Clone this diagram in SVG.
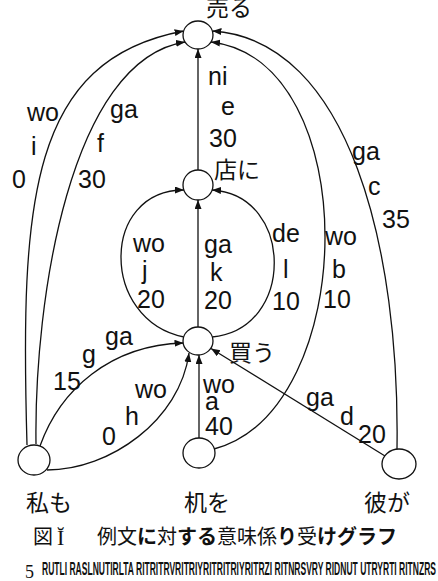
<svg xmlns="http://www.w3.org/2000/svg" width="438" height="581" viewBox="0 0 438 581">
<style>
.n{fill:#fff;stroke:#111;stroke-width:1.3}
.e{fill:none;stroke:#111;stroke-width:1.3;marker-end:url(#ah)}
.l{font-family:"Liberation Sans",Arial,sans-serif;font-size:25px;fill:#111}
.j{font-family:"Noto Sans CJK JP","Noto Sans CJK SC",sans-serif;font-size:23px;fill:#111}
.c{font-family:"Noto Sans CJK JP","Noto Sans CJK SC",sans-serif;font-size:20px;fill:#111}
.g{font-family:"Liberation Sans",Arial,sans-serif;font-size:19px;font-weight:bold;fill:#111}
</style>
<defs>
<marker id="ah" markerUnits="userSpaceOnUse" markerWidth="10" markerHeight="8" refX="9" refY="3.5" orient="auto">
<path d="M0,0 L9,3.5 L0,7 z" fill="#111"/>
</marker>
</defs>
<rect width="438" height="581" fill="#fff"/>
<g id="edges">
<path id="e-i" class="e" d="M27,445 C20,200 30,60 183.6,31"/>
<path id="e-f" class="e" d="M36,444 C34,300 70,60 185,42"/>
<path id="e-c" class="e" d="M397,449 C400,250 350,40 212.4,31"/>
<path id="e-b" class="e" d="M214,449 C360,410 365,60 211,42"/>
<path id="e-e" class="e" d="M198,170 L198,49"/>
<path id="e-k" class="e" d="M198,327 L198,200"/>
<path id="e-j" class="e" d="M184,337 C100,320 100,190 184,190"/>
<path id="e-l" class="e" d="M212,337 C295,330 295,195 212,190"/>
<path id="e-a" class="e" d="M199,438 L199,355"/>
<path id="e-g" class="e" d="M40,446 C60,390 110,345 183.5,343"/>
<path id="e-h" class="e" d="M47,470 C110,470 180,420 189,353"/>
<path id="e-d" class="e" d="M385,456 L211,348.5"/>
</g>
<g id="edge-labels">
<text class="l" x="27" y="121">wo</text><text class="l" x="31" y="155">i</text><text class="l" x="12" y="188">0</text>
<text class="l" x="110" y="118">ga</text><text class="l" x="97" y="152">f</text><text class="l" x="78" y="188">30</text>
<text class="l" x="208" y="85">ni</text><text class="l" x="221" y="115">e</text><text class="l" x="209" y="147">30</text>
<text class="l" x="352" y="160">ga</text><text class="l" x="368" y="195">c</text><text class="l" x="382" y="228">35</text>
<text class="l" x="133" y="252">wo</text><text class="l" x="142" y="279">j</text><text class="l" x="137" y="308">20</text>
<text class="l" x="204" y="253">ga</text><text class="l" x="210" y="281">k</text><text class="l" x="204" y="309">20</text>
<text class="l" x="272" y="242">de</text><text class="l" x="283" y="278">l</text><text class="l" x="272" y="310">10</text>
<text class="l" x="325" y="245">wo</text><text class="l" x="332" y="278">b</text><text class="l" x="323" y="308">10</text>
<text class="l" x="105" y="345">ga</text><text class="l" x="82" y="363">g</text><text class="l" x="53" y="390">15</text>
<text class="l" x="135" y="398">wo</text><text class="l" x="125" y="425">h</text><text class="l" x="102" y="445">0</text>
<text class="l" x="203" y="393">wo</text><text class="l" x="205" y="410">a</text><text class="l" x="205" y="435">40</text>
<text class="l" x="306" y="406">ga</text><text class="l" x="340" y="425">d</text><text class="l" x="358" y="443">20</text>
</g>
<g id="n-uru"><ellipse class="n" cx="198" cy="35" rx="15" ry="14"/><text class="j" x="206" y="16">売る</text></g>
<g id="n-mise"><ellipse class="n" cx="198" cy="185" rx="15" ry="15"/><text class="j" x="214" y="178">店に</text></g>
<g id="n-kau"><ellipse class="n" cx="198" cy="341" rx="15" ry="14"/><text class="j" x="229" y="361">買う</text></g>
<g id="n-watashi"><ellipse class="n" cx="34" cy="460" rx="16" ry="15"/><text class="j" x="26" y="511">私も</text></g>
<g id="n-tsukue"><ellipse class="n" cx="199" cy="453" rx="16" ry="15"/><text class="j" x="184" y="511">机を</text></g>
<g id="n-kare"><ellipse class="n" cx="399" cy="464" rx="17" ry="15"/><text class="j" x="364" y="511">彼が</text></g>
<g id="caption">
<text class="c" x="33" y="544">図</text>
<text x="57" y="545" font-family="Liberation Serif,serif" font-size="22" fill="#111">Ĭ</text>
<text class="c" x="97" y="544">例文<tspan font-weight="bold">に</tspan>対<tspan font-weight="bold">する</tspan>意味係<tspan font-weight="bold">り</tspan>受<tspan font-weight="bold">けグラフ</tspan></text>
<text x="25" y="578" font-family="Liberation Serif,serif" font-size="18" fill="#111">5</text>
<text class="g" x="42" y="575" textLength="394" lengthAdjust="spacingAndGlyphs">RUTLI  RASLNUTIRLTA RITRITRVRITRIYRITRITRIYRITRZI  RITNRSVRY  RIDNUT  UTRYRTI RITNZRS</text>
</g>
</svg>
